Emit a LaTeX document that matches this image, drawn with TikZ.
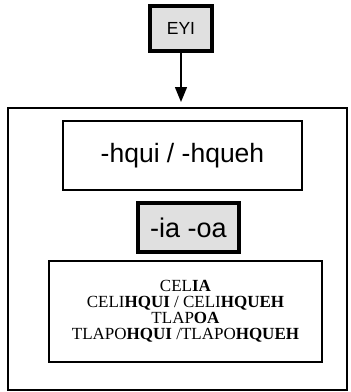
\documentclass[tikz,border=0pt]{standalone}
\usepackage{fontspec}
\setmainfont{Liberation Serif}
\newfontfamily\arialfont{Liberation Sans}
\usetikzlibrary{arrows.meta}
\usetikzlibrary{calc}
\def\outerbox{(8,108) rectangle (347,390)}
\tikzset{
  box/.style={draw, line width=1.3pt, inner sep=0pt},
  keybox/.style={draw, line width=3.2pt, fill=black!12, inner sep=0pt},
  arrow/.style={line width=1.4pt, -{Triangle[length=15pt,width=12pt]}, shorten >=6pt}
}

\begin{document}
\begin{tikzpicture}[x=1pt,y=-1pt]
\useasboundingbox (0,0) rectangle (351,392);
\draw[line width=1.3pt] \outerbox;
\coordinate (top) at (181,108);
 \node[keybox, minimum width=62pt, minimum height=45pt, font=\arialfont\fontsize{17.5}{20}\selectfont] (eyi) at (181,28.5) {EYI};
 \draw[arrow] (eyi) -- (top);
  \node[box, minimum width=239pt, minimum height=69pt, font=\arialfont\fontsize{26.5}{30}\selectfont] (hqui) at (182.5,155.5) {-hqui / -hqueh};
  \node[keybox, minimum width=101pt, minimum height=49pt, font=\arialfont\fontsize{27}{30}\selectfont] (iaoa) at (188.5,227.5) {-ia -oa};
   \node[box, align=center, minimum width=273pt, minimum height=101pt, font=\fontsize{17}{16}\selectfont] (words) at (185.5,311.5)
   {CEL\textbf{IA}\\ CELI\textbf{HQUI} / CELI\textbf{HQUEH}\\ TLAP\textbf{OA}\\ TLAPO\textbf{HQUI} /TLAPO\textbf{HQUEH}};
\end{tikzpicture}
\end{document}
